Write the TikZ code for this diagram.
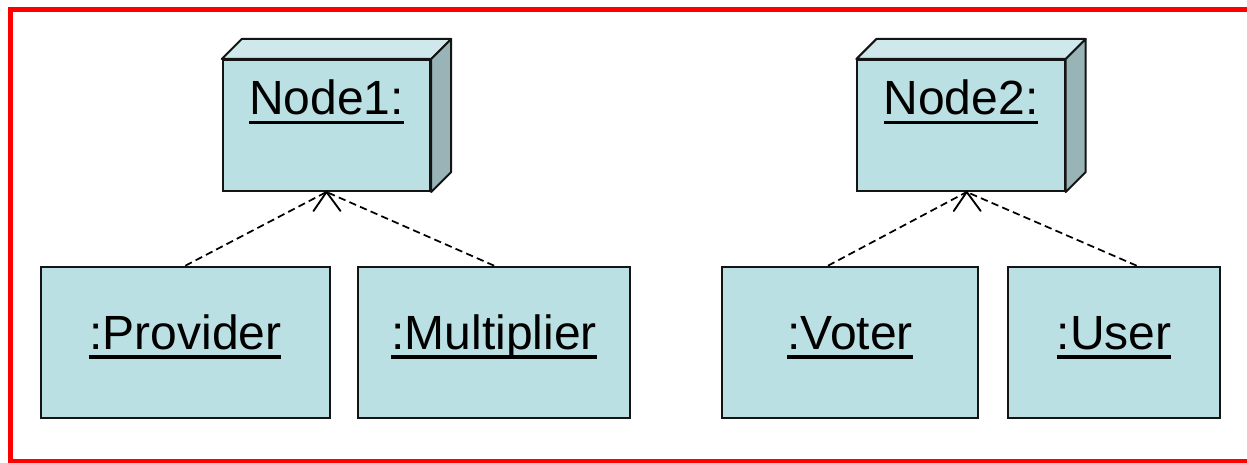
\documentclass[tikz,border=0pt]{standalone}
\usepackage{fontspec}
\setmainfont{Liberation Sans}
\usetikzlibrary{calc}
\definecolor{boxfill}{RGB}{187,224,227}
\definecolor{boxtop}{RGB}{206,232,235}
\definecolor{boxside}{RGB}{152,180,183}
\definecolor{edge}{RGB}{20,20,20}
% underlined instance name
\newcommand\ulname[1]{\setbox0\hbox{#1}\rlap{\rule[-0.195em]{\wd0}{0.077em}}\box0}
\begin{document}
\begin{tikzpicture}[x=0.75pt,y=-0.75pt,
  label/.style={font=\fontsize{36pt}{43pt}\selectfont, inner sep=0pt},
  devfront/.style={label, draw=edge, line width=1.5pt, fill=boxfill,
    minimum width=155.5pt, minimum height=98.25pt,
    text height=27pt, text depth=42.75pt},
  devface/.style={draw=edge, line width=1.5pt, line join=round},
  comp/.style={label, draw=edge, line width=1.5pt, fill=boxfill,
    minimum height=113.25pt, text height=27pt, text depth=16.35pt},
  dep/.style={draw=black, line width=1.3pt, dash pattern=on 5.5pt off 3.2pt},
  vtip/.style={draw=black, line width=1.4pt, line cap=round, line join=miter}
]
\useasboundingbox (0,0) rectangle (1247,463);

% outer frame
\draw[red, line width=3.75pt] (1247,9.5) -- (10.5,9.5) -- (10.5,461.5) -- (1247,461.5);

% deployment nodes
\node[devfront] (n1) at (326.5,125.5) {\ulname{Node1:}};
\node[devfront] (n2) at (961,125.5) {\ulname{Node2:}};
\foreach \n in {n1,n2}{
  \filldraw[devface, fill=boxtop] (\n.north west) -- ([shift={(20,-20)}]\n.north west)
    -- ([shift={(20,-20)}]\n.north east) -- (\n.north east) -- cycle;
  \filldraw[devface, fill=boxside] (\n.north east) -- ([shift={(20,-20)}]\n.north east)
    -- ([shift={(20,-20)}]\n.south east) -- (\n.south east) -- cycle;
}

% components
\node[comp, minimum width=217pt] (prov) at (185.35,342.2) {\ulname{:Provider}};
\node[comp, minimum width=203.8pt] (mult) at (494.15,342.2) {\ulname{:Multiplier}};
\node[comp, minimum width=192.5pt] (vote) at (850,342.2) {\ulname{:Voter}};
\node[comp, minimum width=159pt] (user) at (1114,342.2) {\ulname{:User}};

% dependencies
\coordinate (t1) at (n1.south);
\coordinate (t2) at ([xshift=4.3pt]n2.south);
\draw[dep] (prov.north) -- (t1);
\draw[dep] (mult.north) -- (t1);
\draw[dep] ([xshift=-16.5pt]vote.north) -- (t2);
\draw[dep] ([xshift=17pt]user.north) -- (t2);
\draw[vtip] ([shift={(-13,19)}]t1) -- (t1) -- ([shift={(14,19)}]t1);
\draw[vtip] ([shift={(-13,19)}]t2) -- (t2) -- ([shift={(14,19)}]t2);
\end{tikzpicture}
\end{document}
